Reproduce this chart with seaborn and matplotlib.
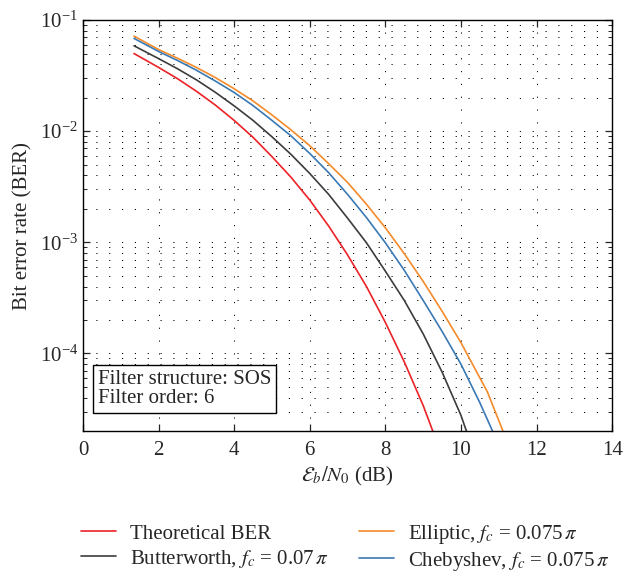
import numpy as np
import pandas as pd
import matplotlib
matplotlib.use("Agg")
import matplotlib.pyplot as plt
import seaborn as sns
from matplotlib.ticker import LogLocator, FixedLocator

# ---- data (Eb/N0 in dB, BER) ----
x_theory = [1.35, 2, 2.5, 3, 3.5, 4, 4.5, 5, 5.5, 6, 6.5, 7, 7.5, 8, 8.5, 9, 9.5, 10]
ber_theory = [0.050, 0.0375, 0.0297, 0.0229, 0.0172, 0.0125, 0.0088, 0.0059, 0.00386,
              0.0024, 0.0014, 7.7e-4, 4.0e-4, 1.9e-4, 8.4e-5, 3.4e-5, 1.2e-5, 3.9e-6]

x_butter = [1.35, 2, 2.5, 3, 3.5, 4, 4.5, 5, 5.5, 6, 6.5, 7, 7.5, 8, 8.5, 9, 9.5, 10, 10.5]
ber_butter = [0.0587, 0.045, 0.0365, 0.029, 0.0224, 0.0169, 0.0125, 0.0089, 0.0062,
              0.00416, 0.0027, 0.00165, 9.9e-4, 5.5e-4, 3.0e-4, 1.5e-4, 6.8e-5, 2.77e-5, 9.0e-6]

x_ellip = [1.35, 2, 2.5, 3, 3.5, 4, 4.5, 5, 5.5, 6, 6.5, 7, 7.5, 8, 8.5, 9, 9.5, 10.0, 10.7, 11.5]
ber_ellip = [0.0718, 0.0543, 0.0454, 0.0375, 0.0304, 0.0241, 0.0187, 0.0140, 0.0103,
             0.0074, 0.0051, 0.00346, 0.0022, 0.00135, 7.9e-4, 4.45e-4, 2.4e-4, 1.25e-4,
             4.5e-5, 9.3e-6]

x_cheby = [1.35, 2, 2.5, 3, 3.5, 4, 4.5, 5, 5.5, 6, 6.5, 7, 7.5, 8, 8.5, 9, 9.5, 10, 10.5, 11, 11.5]
ber_cheby = [0.0684, 0.0522, 0.0433, 0.0354, 0.0283, 0.0223, 0.0170, 0.0125, 0.0091,
             0.0063, 0.00423, 0.0027, 0.00167, 9.9e-4, 5.6e-4, 3.0e-4, 1.58e-4, 8.0e-5,
             3.6e-5, 1.5e-5, 5.0e-6]

labels = ["Theoretical BER",
          r"Butterworth, $f_c$ = 0.07$\,\pi$",
          r"Elliptic, $f_c$ = 0.075$\,\pi$",
          r"Chebyshev, $f_c$ = 0.075$\,\pi$"]
xs = [x_theory, x_butter, x_ellip, x_cheby]
series = [ber_theory, ber_butter, ber_ellip, ber_cheby]
colors = ["#ec2227", "#3c3c3c", "#f48b2a", "#3a79b4"]

xticks = [0, 2, 4, 6, 8, 10, 12, 14]
box_text = "Filter structure: SOS\nFilter order: 6"

# ---- style ----
sns.set_style("ticks")
plt.rcParams["font.family"] = ["Liberation Serif", "DejaVu Serif"]
plt.rcParams["mathtext.fontset"] = "stix"
FS = 15
plt.rcParams["font.size"] = FS

fig = plt.figure(figsize=(6.24, 5.74), dpi=100)
ax = fig.add_axes([0.133, 0.249, 0.848, 0.716])

for lab, xx, ys, col in zip(labels, xs, series, colors):
    df = pd.DataFrame({"x": xx, "y": ys})
    sns.lineplot(data=df, x="x", y="y", ax=ax, color=col, label=lab,
                 linewidth=1.2, sort=False, legend=False)

ax.set_yscale("log")
ax.set_xlim(0, 14)
ax.set_ylim(2e-5, 1e-1)
ax.xaxis.set_major_locator(FixedLocator(xticks))
ax.yaxis.set_major_locator(LogLocator(base=10, numticks=10))
ax.yaxis.set_minor_locator(LogLocator(base=10, subs=np.arange(2, 10), numticks=20))

dots = (0, (1.2, 12))
ax.grid(True, which="major", axis="x", color="black", linewidth=0.7, linestyle=dots)
ax.grid(True, which="both", axis="y", color="black", linewidth=0.7, linestyle=dots)

ax.tick_params(which="both", direction="in", top=True, right=True, labelsize=FS)
ax.tick_params(which="major", length=5, width=0.9)
ax.tick_params(axis="x", which="major", pad=7)
ax.tick_params(which="minor", length=3, width=0.7)
for s in ax.spines.values():
    s.set_linewidth(1.0)
    s.set_color("black")

ax.set_xlabel(r"$\mathcal{E}_b/N_0$ (dB)", fontsize=FS, labelpad=4)
ax.set_ylabel("Bit error rate (BER)", fontsize=FS, labelpad=5)

ax.text(0.028, 0.055, box_text, transform=ax.transAxes, fontsize=FS,
        va="bottom", ha="left", linespacing=1.05,
        bbox=dict(boxstyle="square,pad=0.22", facecolor="white",
                  edgecolor="black", linewidth=1.0))

handles, labs = ax.get_legend_handles_labels()
fig.legend(handles, labs, ncol=2, loc="center", bbox_to_anchor=(0.553, 0.046),
           frameon=False, fontsize=FS, handlelength=1.7, handletextpad=0.65,
           columnspacing=1.45, labelspacing=0.2)

fig.savefig("out.png", dpi=100)
